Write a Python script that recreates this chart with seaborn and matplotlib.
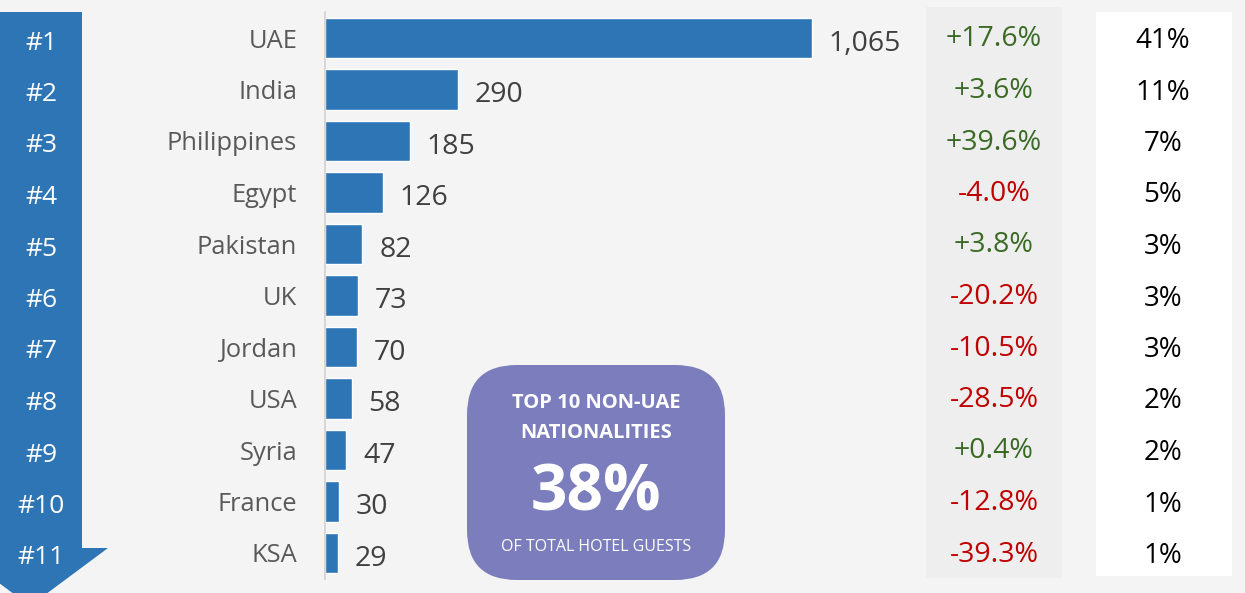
import numpy as np
import pandas as pd
import matplotlib
matplotlib.use("Agg")
import matplotlib.pyplot as plt
import matplotlib.transforms as mtransforms
from matplotlib.patches import Polygon, Rectangle, FancyBboxPatch
import seaborn as sns

# ── data ──────────────────────────────────────────
ranks = ["#1", "#2", "#3", "#4", "#5", "#6", "#7", "#8", "#9", "#10", "#11"]
countries = ["UAE", "India", "Philippines", "Egypt", "Pakistan", "UK",
             "Jordan", "USA", "Syria", "France", "KSA"]
guests = [1065, 290, 185, 126, 82, 73, 70, 58, 47, 30, 29]
changes = ["+17.6%", "+3.6%", "+39.6%", "-4.0%", "+3.8%", "-20.2%",
           "-10.5%", "-28.5%", "+0.4%", "-12.8%", "-39.3%"]
shares = ["41%", "11%", "7%", "5%", "3%", "3%", "3%", "2%", "2%", "1%", "1%"]

box_title = "TOP 10 NON-UAE\nNATIONALITIES"
box_value = "38%"
box_note = "OF TOTAL HOTEL GUESTS"

df = pd.DataFrame({"country": countries, "guests": guests})

# ── styling ───────────────────────────────────────
sns.set_style("white")
plt.rcParams["font.family"] = ["Open Sans", "DejaVu Sans"]

BG = "#f4f4f4"
BLUE = "#2e75b6"
GREEN = "#3b6a25"
RED = "#c00000"
PURPLE = "#7b7dbd"

W, H = 1245, 593
fig = plt.figure(figsize=(W / 100, H / 100), dpi=100, facecolor=BG)


def fx(px):
    return px / W


def fy(py):
    return 1 - py / H


def down(tr, px):
    # shift a transform down by px pixels
    return tr + mtransforms.ScaledTranslation(0, -px / 100, fig.dpi_scale_trans)


# background panels (behind the axes)
fig.patches.append(Rectangle((fx(926), fy(578)), fx(1062) - fx(926), fy(7) - fy(578),
                             transform=fig.transFigure, facecolor="#eeeeee",
                             edgecolor="none", zorder=-2))
fig.patches.append(Rectangle((fx(1096), fy(576)), fx(1232) - fx(1096), fy(12) - fy(576),
                             transform=fig.transFigure, facecolor="white",
                             edgecolor="none", zorder=-2))

# rank arrow
arrow_px = [(-60, 12), (82, 12), (82, 548), (108, 548), (30, 606), (-48, 548), (-60, 548)]
fig.patches.append(Polygon([(fx(x), fy(y)) for x, y in arrow_px], closed=True,
                           transform=fig.transFigure, facecolor=BLUE,
                           edgecolor="none", zorder=-2))

# ── bar chart ─────────────────────────────────────
ax_left, ax_right = 325, 900
ax_top, ax_bot = 12.25, 578.75
ax = fig.add_axes([fx(ax_left), fy(ax_bot), fx(ax_right) - fx(ax_left), fy(ax_top) - fy(ax_bot)])
ax.set_facecolor("none")

sns.barplot(data=df, x="guests", y="country", orient="h", color=BLUE,
            saturation=1, width=0.78, ax=ax)

px_per_unit = (812 - 325) / 1065
ax.set_xlim(0, (ax_right - ax_left) / px_per_unit)
ax.set_ylim(len(countries) - 0.5, -0.5)

lbls = ax.bar_label(ax.containers[0], labels=[f"{v:,}" for v in guests], padding=12,
                    fontsize=20.5, color="#404040")
for t in lbls:
    t.set_va("center")
    t.set_y(-4)

ax.set_xlabel("")
ax.set_ylabel("")
ax.set_xticks([])
ax.tick_params(axis="y", length=0, pad=20, labelsize=18.4, labelcolor="#595959")
for s in ["top", "right", "bottom"]:
    ax.spines[s].set_visible(False)
ax.spines["left"].set_color("#d0d0d0")
ax.spines["left"].set_linewidth(1.2)

# ── side columns ──────────────────────────────────
trans = mtransforms.blended_transform_factory(fig.transFigure, ax.transData)
for i in range(len(countries)):
    ax.text(fx(41), i, ranks[i], transform=down(trans, 5), ha="center", va="center",
            fontsize=19, color="white", clip_on=False)
    ax.text(fx(994), i, changes[i], transform=down(trans, 1.5), ha="center", va="center",
            fontsize=20.5, color=GREEN if changes[i].startswith("+") else RED,
            clip_on=False)
    ax.text(fx(1163), i, shares[i], transform=down(trans, 3), ha="center", va="center",
            fontsize=20, color="black", clip_on=False)

# ── summary box ───────────────────────────────────
bx0, by0, bx1, by1 = 467, 365, 725, 580
fig.patches.append(FancyBboxPatch((fx(bx0), fy(by1)), fx(bx1) - fx(bx0), fy(by0) - fy(by1),
                                  boxstyle="round,pad=0,rounding_size=0.04",
                                  mutation_aspect=W / H,
                                  transform=fig.transFigure, facecolor=PURPLE,
                                  edgecolor="none", zorder=3))
cx = fx((bx0 + bx1) / 2)
fig.text(cx, fy(418), box_title, ha="center", va="center", fontsize=14.5,
         fontweight="bold", color="white", linespacing=1.6, zorder=4)
fig.text(cx, fy(494), box_value, ha="center", va="center", fontsize=46,
         fontweight="bold", color="white", zorder=4)
fig.text(cx, fy(547), box_note, ha="center", va="center", fontsize=11.5,
         color="white", zorder=4)

fig.savefig("out.png", dpi=100, facecolor=BG)
